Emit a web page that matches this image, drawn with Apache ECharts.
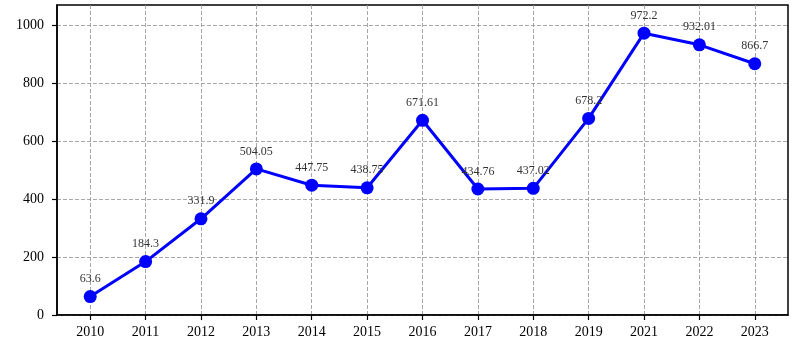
<!DOCTYPE html>
<html>
<head>
<meta charset="utf-8">
<script src="https://cdn.jsdelivr.net/npm/echarts@6/dist/echarts.min.js"></script>
<style>html,body{margin:0;padding:0;background:#fff}#c{width:801px;height:354px}</style>
</head>
<body>
<div id="c"></div>
<script>
var years = ['2010','2011','2012','2013','2014','2015','2016','2017','2018','2019','2021','2022','2023'];
var values = [63.6, 184.3, 331.9, 504.05, 447.75, 438.75, 671.61, 434.76, 437.02, 678.2, 972.2, 932.01, 866.7];
var yTicks = [0, 200, 400, 600, 800, 1000];

var idx = years.map(function (_, i) { return i; });
var data = values.map(function (v, i) { return [i, v]; });
var yMax = Math.max.apply(null, values) * 1.1;

var chart = echarts.init(document.getElementById('c'), null, {renderer: 'canvas'});
var gridLine = {show: true, lineStyle: {color: '#909090', type: [4, 2], width: 0.8}};
var axisLine = {show: true, onZero: false, lineStyle: {color: '#000', width: 1.5}};
chart.setOption({
  animation: false,
  backgroundColor: '#fff',
  grid: {left: 57, right: 13, top: 5, bottom: 39, show: true, borderColor: '#000', borderWidth: 1.5, containLabel: false},
  xAxis: {
    type: 'value', min: -0.6, max: years.length - 1 + 0.6,
    axisLine: axisLine,
    axisTick: {show: true, inside: false, length: 5, customValues: idx, lineStyle: {color: '#000', width: 1.2}},
    axisLabel: {customValues: idx, margin: 10, color: '#000', fontSize: 14, fontFamily: 'Liberation Serif',
      formatter: function (v) { return years[Math.round(v)]; }},
    splitLine: gridLine
  },
  yAxis: {
    type: 'value', min: 0, max: yMax,
    axisLine: axisLine,
    axisTick: {show: true, inside: false, length: 5, customValues: yTicks, lineStyle: {color: '#000', width: 1.2}},
    axisLabel: {customValues: yTicks, margin: 13, color: '#000', fontSize: 14, fontFamily: 'Liberation Serif',
      formatter: function (v) { return String(Math.round(v)); }},
    splitLine: gridLine
  },
  series: [{
    type: 'line', data: data,
    symbol: 'circle', symbolSize: 13,
    itemStyle: {color: '#0000ff'},
    lineStyle: {color: '#0000ff', width: 3},
    label: {show: true, position: 'top', distance: 5, color: '#333', fontSize: 12, fontFamily: 'Liberation Serif',
      formatter: function (p) { return String(values[p.dataIndex]); }},
    z: 5
  }]
});
</script>
</body>
</html>
